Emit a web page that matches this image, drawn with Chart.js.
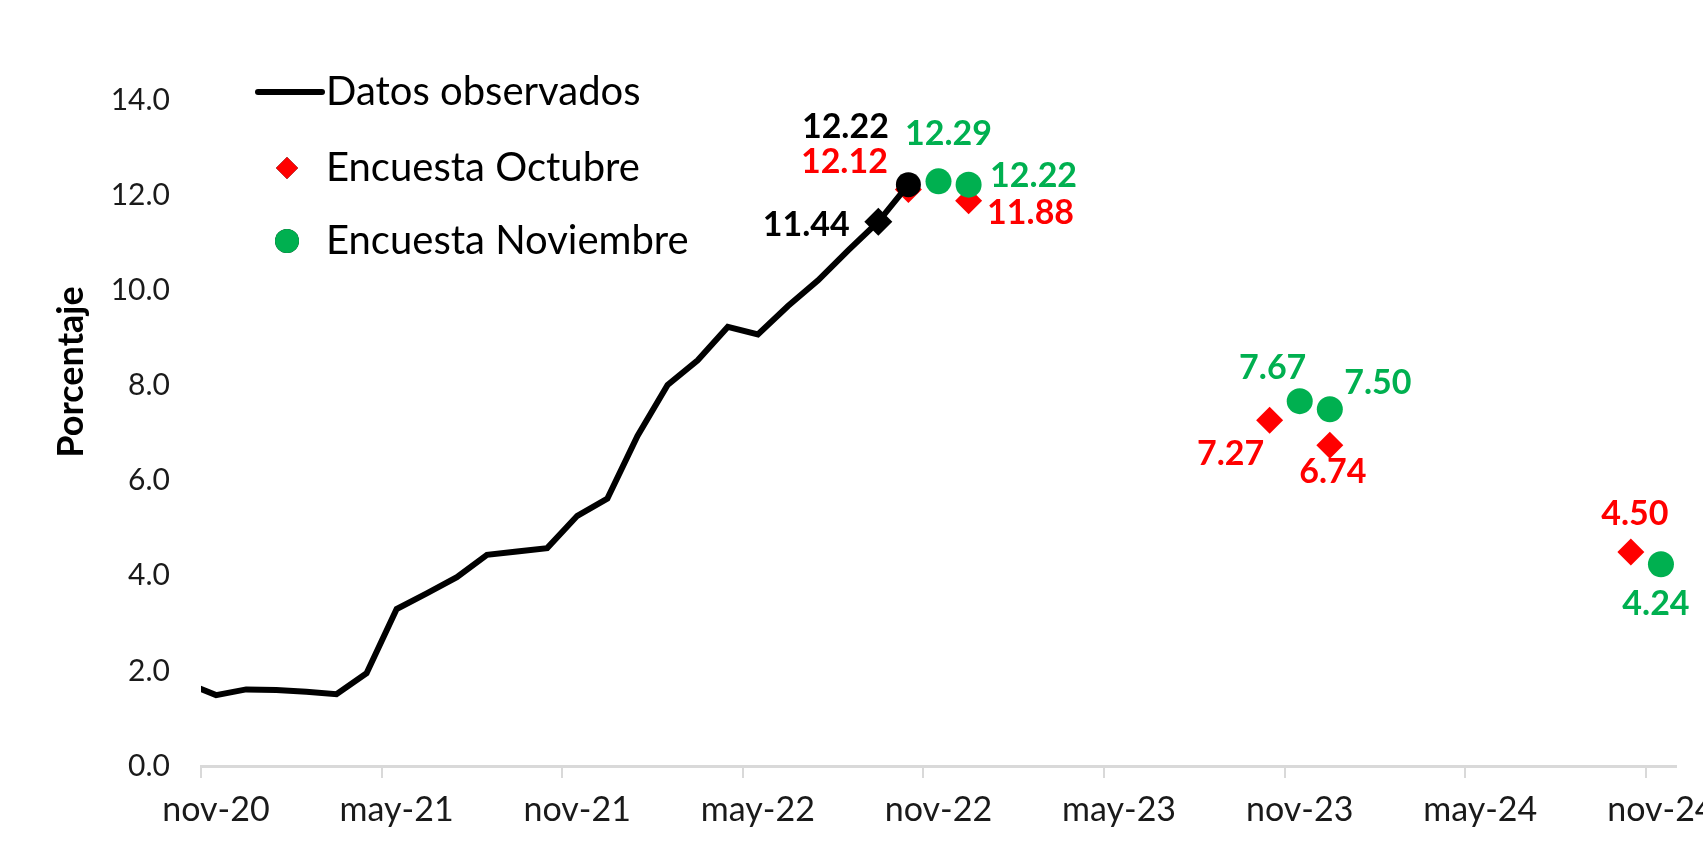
<!DOCTYPE html>
<html lang="es">
<head>
<meta charset="utf-8">
<title>Inflación observada y encuestas</title>
<script src="https://cdn.jsdelivr.net/npm/chart.js@4.4.1/dist/chart.umd.min.js"></script>
<style>
  html, body { margin: 0; padding: 0; background: #fff; }
  canvas { display: block; }
</style>
</head>
<body>
<canvas id="chart" width="1703" height="845"></canvas>
<script>
// DATA

const xTickLabels = ['nov-20', 'may-21', 'nov-21', 'may-22', 'nov-22', 'may-23', 'nov-23', 'may-24', 'nov-24'];

const observedMonths = [
  'oct-20', 'nov-20', 'dic-20',
  'ene-21', 'feb-21', 'mar-21', 'abr-21', 'may-21', 'jun-21',
  'jul-21', 'ago-21', 'sep-21', 'oct-21', 'nov-21', 'dic-21',
  'ene-22', 'feb-22', 'mar-22', 'abr-22', 'may-22', 'jun-22',
  'jul-22', 'ago-22', 'sep-22', 'oct-22',
];
const observedValues = [
  1.75, 1.49, 1.61,
  1.60, 1.56, 1.51, 1.95, 3.30, 3.63,
  3.97, 4.44, 4.51, 4.58, 5.26, 5.62,
  6.94, 8.01, 8.53, 9.23, 9.07, 9.67,
  10.21, 10.84, 11.44, 12.22,
];

const octSurveyMonths = ['oct-22', 'dic-22', 'oct-23', 'dic-23', 'oct-24'];
const octSurveyValues = [12.12, 11.88, 7.27, 6.74, 4.50];

const novSurveyMonths = ['nov-22', 'dic-22', 'nov-23', 'dic-23', 'nov-24'];
const novSurveyValues = [12.29, 12.22, 7.67, 7.50, 4.24];

// month label -> position on the x axis (0 = start of nov-20, points sit mid-month)
const MONTHS = ['ene', 'feb', 'mar', 'abr', 'may', 'jun', 'jul', 'ago', 'sep', 'oct', 'nov', 'dic'];
const monthPos = (label) => {
  const [m, yy] = label.split('-');
  return (Number(yy) - 20) * 12 + MONTHS.indexOf(m) - 10 + 0.5;
};
const toPoints = (months, values) => months.map((m, i) => ({ x: monthPos(m), y: values[i] }));

const BLACK = '#000000';
const RED = '#ff0000';
const GREEN = '#00b050';
const FONT = 'Lato, "Open Sans", sans-serif';

// label offsets (px) from the point, by dataset label and point index
const labelOffsets = {
  'Datos observados': { 23: [-72, 3], 24: [-63, -58] },
  'Encuesta Octubre': { 0: [-64, -27], 1: [62, 12], 2: [-39, 34], 3: [3, 27], 4: [4, -38] },
  'Encuesta Noviembre': { 0: [10, -47], 1: [65, -9], 2: [-27, -33], 3: [48, -26], 4: [-5, 40] },
};

// PLUGINS

const pointLabels = {
  id: 'pointLabels',
  afterDatasetsDraw(chart) {
    const { ctx } = chart;
    ctx.save();
    ctx.font = 'bold 34px ' + FONT;
    ctx.textAlign = 'center';
    ctx.textBaseline = 'middle';
    chart.data.datasets.forEach((ds, di) => {
      const offsets = labelOffsets[ds.label] || {};
      const meta = chart.getDatasetMeta(di);
      ctx.fillStyle = ds.labelColor;
      Object.entries(offsets).forEach(([idx, [dx, dy]]) => {
        const el = meta.data[idx];
        ctx.fillText(ds.data[idx].y.toFixed(2), el.x + dx, el.y + dy);
      });
    });
    ctx.restore();
  },
};

// legend sits inside the plot, top left
const insideLegend = {
  id: 'insideLegend',
  afterDraw(chart) {
    const { ctx } = chart;
    const ds = chart.data.datasets;
    const rows = [
      { d: ds[0], y: 92, kind: 'line' },
      { d: ds[1], y: 168, kind: 'rectRot' },
      { d: ds[2], y: 241, kind: 'circle' },
    ];
    ctx.save();
    ctx.font = '40px ' + FONT;
    ctx.textBaseline = 'middle';
    rows.forEach((r) => {
      if (r.kind === 'line') {
        ctx.strokeStyle = r.d.borderColor;
        ctx.lineWidth = 6;
        ctx.lineCap = 'round';
        ctx.beginPath();
        ctx.moveTo(258, r.y);
        ctx.lineTo(322, r.y);
        ctx.stroke();
      } else {
        Chart.helpers.drawPoint(ctx, {
          pointStyle: r.kind,
          radius: r.kind === 'circle' ? 12 : 11,
          rotation: 0,
          borderWidth: 0,
        }, 287, r.y);
        ctx.fillStyle = r.d.backgroundColor;
        ctx.fill();
      }
      ctx.fillStyle = BLACK;
      ctx.fillText(r.d.label, 326, r.y);
    });

    // y axis title, placed as in the source
    ctx.translate(71, 372);
    ctx.rotate(-Math.PI / 2);
    ctx.font = 'bold 36px ' + FONT;
    ctx.textAlign = 'center';
    ctx.fillText('Porcentaje', 0, 0);
    ctx.restore();
  },
};

// CHART

new Chart(document.getElementById('chart'), {
  type: 'line',
  data: {
    datasets: [
      {
        label: 'Datos observados',
        data: toPoints(observedMonths, observedValues),
        borderColor: BLACK,
        backgroundColor: BLACK,
        labelColor: BLACK,
        borderWidth: 6,
        clip: 0,
        pointRadius: (c) => (c.dataIndex === observedValues.length - 1 ? 12.5 : c.dataIndex === observedValues.length - 2 ? 14 : 0),
        pointStyle: (c) => (c.dataIndex === observedValues.length - 1 ? 'circle' : 'rectRot'),
        pointBorderWidth: 0,
        order: 0,
      },
      {
        label: 'Encuesta Octubre',
        data: toPoints(octSurveyMonths, octSurveyValues),
        showLine: false,
        backgroundColor: RED,
        borderColor: RED,
        labelColor: RED,
        pointStyle: 'rectRot',
        pointRadius: 13.5,
        pointBorderWidth: 0,
        order: 2,
      },
      {
        label: 'Encuesta Noviembre',
        data: toPoints(novSurveyMonths, novSurveyValues),
        showLine: false,
        backgroundColor: GREEN,
        borderColor: GREEN,
        labelColor: GREEN,
        pointStyle: 'circle',
        pointRadius: 13,
        pointBorderWidth: 0,
        order: 1,
      },
    ],
  },
  options: {
    responsive: false,
    animation: false,
    layout: { padding: { left: 0, top: 100, right: 27, bottom: 0 } },
    plugins: {
      legend: { display: false },
      tooltip: { enabled: false },
    },
    scales: {
      x: {
        type: 'linear',
        min: 0,
        max: 49,
        afterBuildTicks: (scale) => {
          scale.ticks = xTickLabels.map((_, i) => ({ value: i * 6 }));
        },
        afterFit: (scale) => {
          scale.height = 79;
          // last label may run off the edge, as in the source
          scale.paddingLeft = 0;
          scale.paddingRight = 0;
        },
        ticks: {
          autoSkip: false,
          maxRotation: 0,
          padding: 12,
          labelOffset: 15,
          color: '#1a1a1a',
          font: { family: FONT, size: 34 },
          callback: (v) => xTickLabels[v / 6],
        },
        grid: {
          drawOnChartArea: false,
          drawTicks: true,
          tickLength: 12,
          color: '#d9d9d9',
          lineWidth: 2,
        },
        border: { display: true, color: '#d9d9d9', width: 3 },
      },
      y: {
        min: 0,
        max: 14,
        afterFit: (scale) => {
          scale.width = 201;
        },
        ticks: {
          stepSize: 2,
          padding: 31,
          color: '#1a1a1a',
          font: { family: FONT, size: 30 },
          callback: (v) => v.toFixed(1),
        },
        grid: { display: false, drawTicks: false },
        border: { display: false },
      },
    },
  },
  plugins: [pointLabels, insideLegend],
});
</script>
</body>
</html>
